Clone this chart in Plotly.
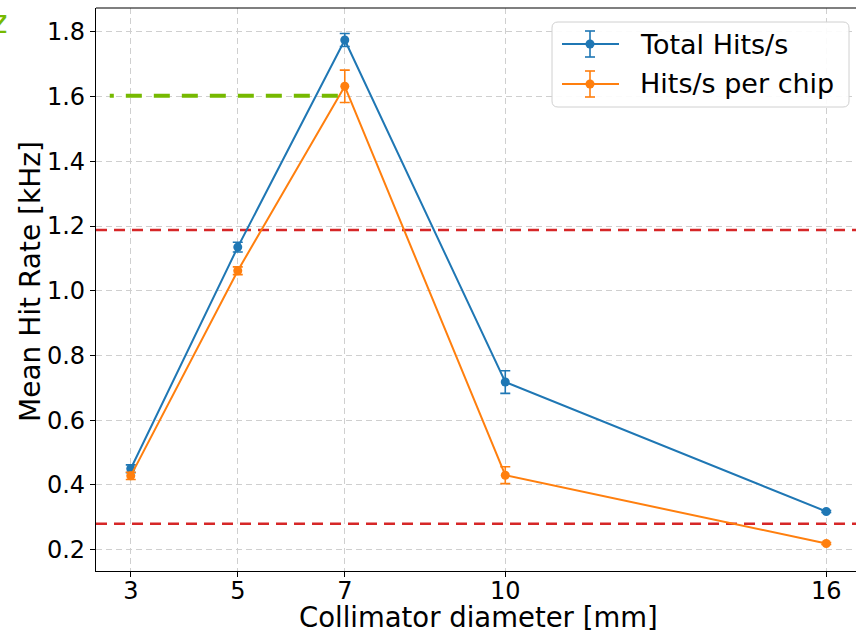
import plotly.graph_objects as go

# ---- data ----
diameters = [3, 5, 7, 10, 16]
x_ticks = [3, 5, 7, 10, 16]
x_tick_labels = ["3", "5", "7", "10", "16"]
y_ticks = [0.2, 0.4, 0.6, 0.8, 1.0, 1.2, 1.4, 1.6, 1.8]

total_hits = [0.450, 1.135, 1.775, 0.718, 0.318]
total_err = [0.012, 0.015, 0.020, 0.035, 0.003]
chip_hits = [0.428, 1.062, 1.632, 0.430, 0.219]
chip_err = [0.011, 0.012, 0.050, 0.026, 0.003]

red_levels = [1.188, 0.280]
green_level = 1.603
green_x = [6.87, 2.607]

series_names = ["Total Hits/s", "Hits/s per chip"]
series_colors = ["#1f77b4", "#ff7f0e"]
x_title = "Collimator diameter [mm]"
y_title = "Mean Hit Rate [kHz]"

# ---- layout geometry (pixels) ----
W, H = 856, 633
ML, MR, MT, MB = 96, 0, 8, 62
PW, PH = W - ML - MR, H - MT - MB
x_range = [2.35, 2.35 + PW / 53.5]
y_range = [0.134, 1.874]

FONT = "DejaVu Sans"


def px_x(p):
    return (p - ML) / PW


def px_y(p):
    return (H - MB - p) / PH


fig = go.Figure()

for name, ys, es, col in [
    (series_names[0], total_hits, total_err, series_colors[0]),
    (series_names[1], chip_hits, chip_err, series_colors[1]),
]:
    fig.add_trace(go.Scatter(
        x=diameters, y=ys, name=name, mode="lines+markers",
        line=dict(color=col, width=2),
        marker=dict(color=col, size=9),
        error_y=dict(type="data", array=es, visible=True, color=col,
                     thickness=1.6, width=5),
        showlegend=False,
    ))

# green dashed line (drawn right to left)
fig.add_trace(go.Scatter(
    x=green_x, y=[green_level, green_level], mode="lines",
    line=dict(color="#76b900", width=4, dash="16px,12px"),
    showlegend=False, hoverinfo="skip",
))

shapes = []
for lv in red_levels:
    shapes.append(dict(type="line", xref="paper", yref="y", x0=0, x1=1,
                       y0=lv, y1=lv, layer="between",
                       line=dict(color="#d62728", width=2.5, dash="11px,7px")))
# top spine
shapes.append(dict(type="line", xref="paper", yref="paper", x0=0, x1=1,
                   y0=1, y1=1, line=dict(color="black", width=1.2)))

# custom legend box
bx0, bx1, by0, by1, r = 552, 849, 22, 107, 6
path = (f"M {px_x(bx0 + r)},{px_y(by0)} L {px_x(bx1 - r)},{px_y(by0)} "
        f"Q {px_x(bx1)},{px_y(by0)} {px_x(bx1)},{px_y(by0 + r)} "
        f"L {px_x(bx1)},{px_y(by1 - r)} "
        f"Q {px_x(bx1)},{px_y(by1)} {px_x(bx1 - r)},{px_y(by1)} "
        f"L {px_x(bx0 + r)},{px_y(by1)} "
        f"Q {px_x(bx0)},{px_y(by1)} {px_x(bx0)},{px_y(by1 - r)} "
        f"L {px_x(bx0)},{px_y(by0 + r)} "
        f"Q {px_x(bx0)},{px_y(by0)} {px_x(bx0 + r)},{px_y(by0)} Z")
shapes.append(dict(type="path", xref="paper", yref="paper", path=path,
                   fillcolor="rgba(255,255,255,0.9)", layer="above",
                   line=dict(color="#d0d0d0", width=1)))

annotations = []
for i, (name, col) in enumerate(zip(series_names, series_colors)):
    cy = 44 + i * 40
    shapes.append(dict(type="line", xref="paper", yref="paper",
                       x0=px_x(562), x1=px_x(619), y0=px_y(cy), y1=px_y(cy),
                       layer="above", line=dict(color=col, width=2)))
    shapes.append(dict(type="line", xref="paper", yref="paper",
                       x0=px_x(590), x1=px_x(590), y0=px_y(cy - 13), y1=px_y(cy + 13),
                       layer="above", line=dict(color=col, width=1.6)))
    for dy in (-13, 13):
        shapes.append(dict(type="line", xref="paper", yref="paper",
                           x0=px_x(585), x1=px_x(595), y0=px_y(cy + dy), y1=px_y(cy + dy),
                           layer="above", line=dict(color=col, width=1.6)))
    shapes.append(dict(type="circle", xref="paper", yref="paper",
                       x0=px_x(585.5), x1=px_x(594.5), y0=px_y(cy - 4.5), y1=px_y(cy + 4.5),
                       layer="above", fillcolor=col, line=dict(color=col, width=0)))
    annotations.append(dict(xref="paper", yref="paper", x=px_x(638), y=px_y(cy),
                            xanchor="left", yanchor="middle", showarrow=False,
                            text=name, font=dict(family=FONT, size=27, color="black")))

# axis titles
annotations.append(dict(xref="paper", yref="paper", x=px_x(479), y=px_y(617),
                        xanchor="center", yanchor="middle", showarrow=False,
                        text=x_title, font=dict(family=FONT, size=27.5, color="black")))
annotations.append(dict(xref="paper", yref="paper", x=px_x(30), y=px_y(282),
                        xanchor="center", yanchor="middle", showarrow=False, textangle=-90,
                        text=y_title, font=dict(family=FONT, size=28, color="black")))

# cropped green label at far left
annotations.append(dict(xref="paper", yref="paper", x=px_x(9), y=px_y(22),
                        xanchor="right", yanchor="middle", showarrow=False,
                        text="1.6 kHz", font=dict(family=FONT, size=32, color="#76b900")))

fig.update_layout(
    width=W, height=H,
    margin=dict(l=ML, r=MR, t=MT, b=MB, pad=0, autoexpand=False),
    paper_bgcolor="white", plot_bgcolor="white",
    font=dict(family=FONT, size=24, color="black"),
    shapes=shapes, annotations=annotations,
    showlegend=False,
)
fig.update_xaxes(
    range=x_range, tickmode="array", tickvals=x_ticks, ticktext=x_tick_labels,
    showline=True, linecolor="black", linewidth=1.2, mirror=False,
    ticks="outside", ticklen=5, tickwidth=1.2, tickcolor="black",
    ticklabelstandoff=-7,
    showgrid=True, gridcolor="#cfcfcf", gridwidth=1, griddash="6px,4px",
    zeroline=False, automargin=False,
)
fig.update_yaxes(
    range=y_range, tickmode="array", tickvals=y_ticks, tickformat=".1f",
    showline=True, linecolor="black", linewidth=1.2, mirror=False,
    ticks="outside", ticklen=5, tickwidth=1.2, tickcolor="black",
    showgrid=True, gridcolor="#cfcfcf", gridwidth=1, griddash="6px,4px",
    zeroline=False, automargin=False,
)

fig.write_html("out.html", config={"displayModeBar": False},
               post_script="document.body.style.margin='0';")
